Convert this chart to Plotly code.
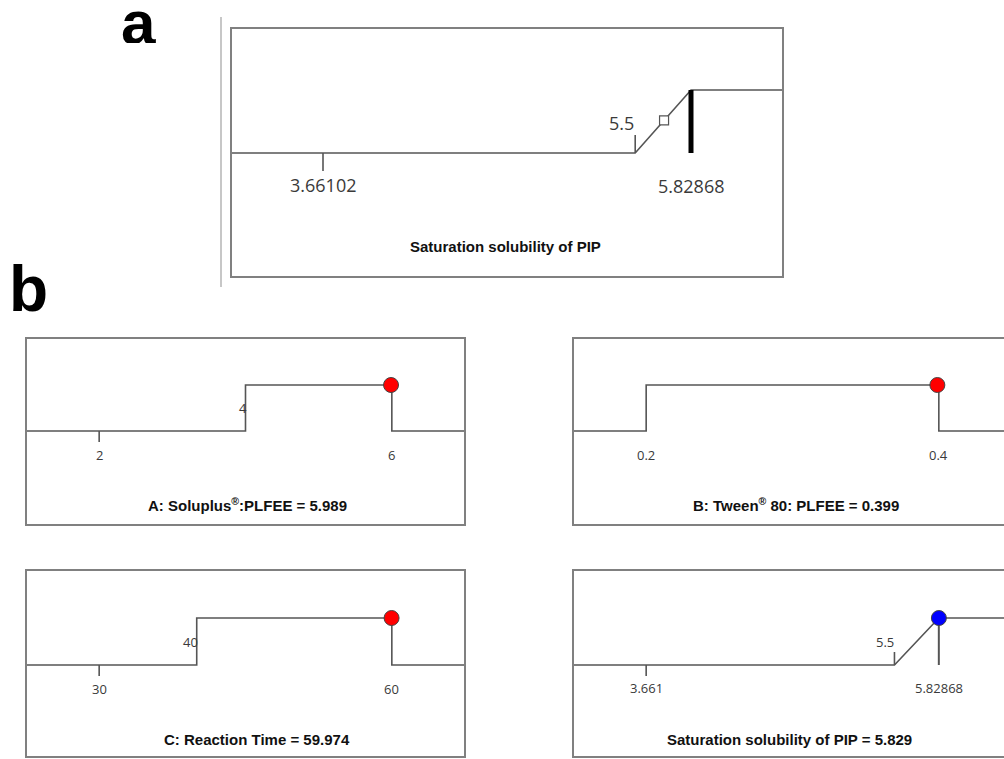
import numpy as np
import plotly.graph_objects as go

# ---------------- data ----------------
factor_titles = ["A: Soluplus<sup>®</sup>:PLFEE", "B: Tween<sup>®</sup> 80: PLFEE", "C: Reaction Time"]
factor_low = [2, 0.2, 30]
factor_high = [6, 0.4, 60]
goal_low = [4, 0.2, 40]
goal_high = [6, 0.4, 60]
factor_opt = [5.989, 0.399, 59.974]
factor_opt_text = ["5.989", "0.399", "59.974"]
low_text = ["2", "0.2", "30"]
high_text = ["6", "0.4", "60"]
goal_text = ["4", "0.2", "40"]

resp_title = "Saturation solubility of PIP"
resp_low = 3.66102
resp_high = 5.82868
resp_goal_low = 5.5
resp_target = 5.82868
resp_opt = 5.829
resp_opt_text = "5.829"
resp_pred_a = 5.67
resp_ticks_a = ["3.66102", "5.5", "5.82868"]
resp_ticks_b = ["3.661", "5.5", "5.82868"]
desir = [0, 1]

# ---------------- layout geometry (pixels) ----------------
W, H = 1004, 759
def px(x): return x / W
def py(y): return 1 - y / H

# box: left, right(full), top, bottom, baseline, unit(px per desirability)
geo = {
    1: dict(l=231, r=783, t=28, b=277, base=153, unit=63),
    2: dict(l=26, r=465, t=338, b=525, base=431, unit=46),
    3: dict(l=573, r=1012, t=338, b=525, base=431, unit=46),
    4: dict(l=26, r=465, t=570, b=757, base=665, unit=47),
    5: dict(l=573, r=1012, t=570, b=757, base=665, unit=47),
}

LINE = "#555555"
BOX = "#808080"
TXT = "#3a3a3a"
TICKFONT = "Open Sans"
TITLEFONT = "Liberation Sans"

fig = go.Figure()
layout = dict(width=W, height=H, margin=dict(l=0, r=0, t=0, b=0),
              paper_bgcolor="white", plot_bgcolor="white", showlegend=False)
shapes, annots = [], []

def xrange_for(lo, hi, g):
    m = 0.25 * (hi - lo)
    a, b = lo - m, hi + m
    vis_r = min(g["r"], W)
    frac = (vis_r - g["l"]) / (g["r"] - g["l"])
    return [a, a + (b - a) * frac], frac

def setup_axes(i, lo, hi):
    g = geo[i]
    rng, frac = xrange_for(lo, hi, g)
    vis_r = min(g["r"], W)
    yr = [-(g["b"] - g["base"]) / g["unit"], (g["base"] - g["t"]) / g["unit"]]
    sfx = "" if i == 1 else str(i)
    layout["xaxis" + sfx] = dict(domain=[px(g["l"]), px(vis_r)], range=rng, visible=False,
                                 anchor="y" + sfx, fixedrange=True)
    layout["yaxis" + sfx] = dict(domain=[py(g["b"]), py(g["t"])], range=yr, visible=False,
                                 anchor="x" + sfx, fixedrange=True)
    xd = ("x" + sfx) + " domain"
    yd = ("y" + sfx) + " domain"
    shapes.append(dict(type="rect", xref=xd, yref=yd, x0=0, x1=1 / frac, y0=0, y1=1,
                       line=dict(color=BOX, width=2), fillcolor="rgba(0,0,0,0)"))
    return "x" + sfx, "y" + sfx, rng, g

def seg(xa, ya, x, y, color=LINE, width=1.6):
    fig.add_trace(go.Scatter(x=x, y=y, xaxis=xa, yaxis=ya, mode="lines",
                             line=dict(color=color, width=width), hoverinfo="skip"))

def label(xa, ya, x, text, dy, size, anchor="center", dx=0):
    annots.append(dict(xref=xa, yref=ya, x=x, y=0, text=text, showarrow=False,
                       xanchor=anchor, yanchor="middle", xshift=dx, yshift=dy,
                       font=dict(family=TICKFONT, size=size, color=TXT)))

# ---------------- panel a ----------------
xa, ya, rng, g = setup_axes(1, resp_low, resp_high)
seg(xa, ya, [rng[0], resp_goal_low, resp_target, rng[1]], [desir[0], desir[0], desir[1], desir[1]])
tl = 18 / g["unit"]
seg(xa, ya, [resp_low, resp_low], [0, -tl])
seg(xa, ya, [resp_goal_low, resp_goal_low], [0, tl])
seg(xa, ya, [resp_target, resp_target], [desir[0], desir[1]], color="black", width=5)
ypred = float(np.interp(resp_pred_a, [resp_goal_low, resp_target], desir))
fig.add_trace(go.Scatter(x=[resp_pred_a], y=[ypred], xaxis=xa, yaxis=ya, mode="markers",
                         marker=dict(symbol="square", size=9, color="white",
                                     line=dict(color=LINE, width=1.2)), hoverinfo="skip"))
label(xa, ya, resp_low, resp_ticks_a[0], -32, 18)
label(xa, ya, resp_goal_low, resp_ticks_a[1], 30, 18, anchor="right", dx=1)
label(xa, ya, resp_target, resp_ticks_a[2], -33, 18)
annots.append(dict(xref="paper", yref="paper", x=px(505), y=py(247), text="<b>" + resp_title + "</b>",
                   showarrow=False, xanchor="center", yanchor="middle",
                   font=dict(family=TITLEFONT, size=15, color="#111")))

# ---------------- factor panels ----------------
title_pos = {2: (247, 504), 3: (796, 504), 4: (257, 739)}
for k, i in enumerate([2, 3, 4]):
    lo, hi, gl, gh = factor_low[k], factor_high[k], goal_low[k], goal_high[k]
    xa, ya, rng, g = setup_axes(i, lo, hi)
    seg(xa, ya, [rng[0], gl, gl, gh, gh, rng[1]],
        [desir[0], desir[0], desir[1], desir[1], desir[0], desir[0]])
    tl = 11 / g["unit"]
    if lo < gl:
        seg(xa, ya, [lo, lo], [0, -tl])
    fig.add_trace(go.Scatter(x=[factor_opt[k]], y=[desir[1]], xaxis=xa, yaxis=ya, mode="markers",
                             marker=dict(size=15, color="#ff0000", line=dict(color="#444", width=1)),
                             hoverinfo="skip"))
    label(xa, ya, lo, low_text[k], -24, 13)
    label(xa, ya, hi, high_text[k], -24, 13)
    if gl > lo:
        label(xa, ya, gl, goal_text[k], 23, 13, anchor="right", dx=3)
    tx, ty = title_pos[i]
    annots.append(dict(xref="paper", yref="paper", x=px(tx), y=py(ty),
                       text="<b>" + factor_titles[k] + " = " + factor_opt_text[k] + "</b>",
                       showarrow=False, xanchor="center", yanchor="middle",
                       font=dict(family=TITLEFONT, size=15, color="#111")))

# ---------------- response panel (b) ----------------
xa, ya, rng, g = setup_axes(5, resp_low, resp_high)
seg(xa, ya, [rng[0], resp_goal_low, resp_target, rng[1]], [desir[0], desir[0], desir[1], desir[1]])
seg(xa, ya, [resp_low, resp_low], [0, -11 / g["unit"]])
seg(xa, ya, [resp_goal_low, resp_goal_low], [0, 13 / g["unit"]])
seg(xa, ya, [resp_target, resp_target], [desir[0], desir[1]], width=2)
fig.add_trace(go.Scatter(x=[resp_opt], y=[desir[1]], xaxis=xa, yaxis=ya, mode="markers",
                         marker=dict(size=15, color="#0000ff", line=dict(color="#444", width=1)),
                         hoverinfo="skip"))
label(xa, ya, resp_low, resp_ticks_b[0], -23, 13)
label(xa, ya, resp_goal_low, resp_ticks_b[1], 23, 13, anchor="right", dx=2)
label(xa, ya, resp_target, resp_ticks_b[2], -23, 13)
annots.append(dict(xref="paper", yref="paper", x=px(789), y=py(739),
                   text="<b>" + resp_title + " = " + resp_opt_text + "</b>",
                   showarrow=False, xanchor="center", yanchor="middle",
                   font=dict(family=TITLEFONT, size=15, color="#111")))

# ---------------- decorations ----------------
shapes.append(dict(type="line", xref="paper", yref="paper", x0=px(221), x1=px(221),
                   y0=py(17), y1=py(287), line=dict(color="#b5b5b5", width=1.5)))
annots.append(dict(xref="paper", yref="paper", x=px(138), y=py(22), text="<b>a</b>",
                   showarrow=False, xanchor="center", yanchor="middle", height=42,
                   valign="middle",
                   font=dict(family=TITLEFONT, size=62, color="black")))
annots.append(dict(xref="paper", yref="paper", x=px(28), y=py(289), text="<b>b</b>",
                   showarrow=False, xanchor="center", yanchor="middle",
                   font=dict(family=TITLEFONT, size=64, color="black")))

layout["shapes"] = shapes
layout["annotations"] = annots
fig.update_layout(**layout)
fig.write_html("out.html", config={"displayModeBar": False},
               post_script="document.body.style.margin='0';")
